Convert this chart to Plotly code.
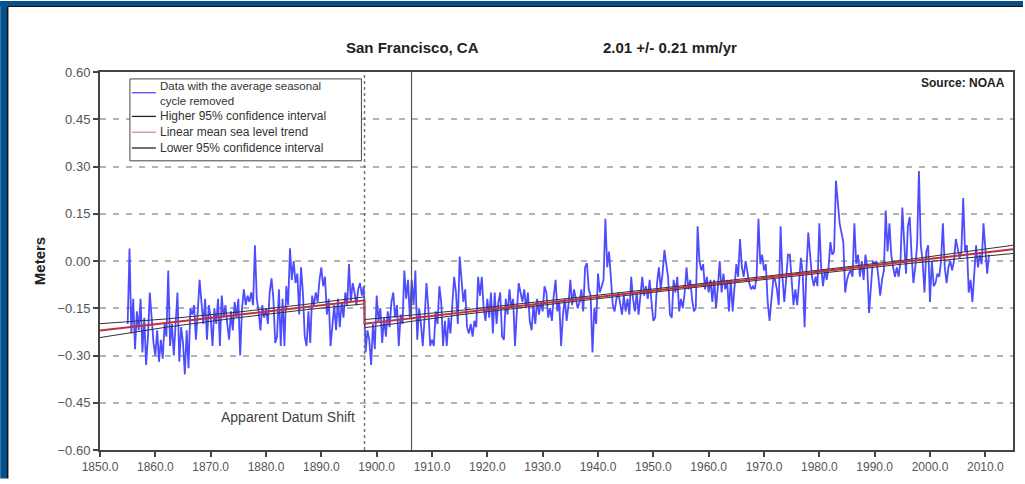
import plotly.graph_objects as go

# ---------------- data ----------------
start_year = 1855.0
steps_per_year = 3
msl = [
    -0.20, 0.04, -0.23,   -0.12, -0.28, -0.16,   -0.22, -0.12, -0.29,   -0.18, -0.33, -0.24,   -0.10, -0.20, -0.26,
    -0.30, -0.22, -0.32,   -0.25, -0.31, -0.20,   -0.24, -0.03, -0.27,   -0.20, -0.30, -0.19,   -0.10, -0.32, -0.21,
    -0.26, -0.36, -0.22,   -0.34, -0.15, -0.17,   -0.14, -0.25, -0.16,   -0.06, -0.13, -0.20,   -0.12, -0.25, -0.14,
    -0.18, -0.27, -0.15,   -0.20, -0.12, -0.27,   -0.11, -0.18, -0.14,   -0.20, -0.25, -0.16,   -0.22, -0.13, -0.18,
    -0.12, -0.30, -0.15,   -0.09, -0.14, -0.11,   -0.13, -0.10, -0.14,   0.05, -0.12, -0.16,   -0.22, -0.14, -0.18,
    -0.15, -0.20, -0.10,   -0.055, -0.12, -0.26,   -0.24, -0.09, -0.27,   -0.12, -0.27, -0.08,   -0.14, 0.04, -0.06,
    0.00, -0.07, -0.04,   -0.17, -0.02, -0.10,   -0.24, -0.27, -0.16,   -0.26, -0.11, -0.14,   -0.10, -0.13, -0.06,
    -0.02, -0.08, -0.05,   -0.17, -0.12, -0.27,   -0.20, -0.14, -0.22,   -0.12, -0.21, -0.13,   -0.18, -0.10, -0.14,
    -0.01, -0.13, -0.07,   -0.10, -0.14, -0.09,   -0.07, -0.11, -0.08,   -0.29, -0.22, -0.25,   -0.33, -0.20, -0.28,
    -0.11, -0.19, -0.15,   -0.26, -0.18, -0.24,   -0.16, -0.21, -0.13,   -0.10, -0.18, -0.14,   -0.27, -0.17, -0.20,
    -0.03, -0.12, -0.06,   -0.18, -0.06, -0.14,   -0.03, -0.25, -0.15,   -0.20, -0.27, -0.18,   -0.07, -0.15, -0.27,
    -0.25, -0.27, -0.16,   -0.20, -0.08, -0.13,   -0.27, -0.19, -0.27,   -0.18, -0.23, -0.14,   -0.05, -0.10, -0.20,
    0.014, -0.05, -0.13,   -0.09, -0.21, -0.23,   -0.20, -0.24, -0.19,   -0.21, -0.05, -0.11,   -0.05, -0.15, -0.19,
    -0.12, -0.18, -0.10,   -0.23, -0.10, -0.20,   -0.13, -0.10, -0.24,   -0.25, -0.12, -0.17,   -0.09, -0.15, -0.12,
    -0.27, -0.16, -0.07,   -0.10, -0.13, -0.09,   -0.15, -0.10, -0.19,   -0.22, -0.14, -0.20,   -0.12, -0.17, -0.13,
    -0.16, -0.08, -0.10,   -0.18, -0.15, -0.19,   -0.11, -0.06, -0.16,   -0.13, -0.27, -0.17,   -0.12, -0.19, -0.14,
    -0.06, -0.14, -0.09,   -0.12, -0.15, -0.13,   -0.09, -0.16, -0.02,   -0.007, -0.09, -0.11,   -0.29, -0.15, -0.20,
    -0.04, -0.10, -0.08,   -0.06, 0.134, -0.02,   0.03, -0.05, -0.14,   -0.16, -0.12, -0.10,   -0.14, -0.17, -0.11,
    -0.16, -0.12, -0.17,   -0.05, -0.12, -0.16,   -0.10, -0.17, -0.12,   -0.05, -0.11, -0.08,   -0.12, -0.06, -0.13,
    -0.19, -0.18, -0.07,   -0.02, -0.09, -0.04,   0.035, -0.01, -0.05,   -0.17, -0.18, -0.06,   -0.10, -0.05, -0.16,
    -0.12, -0.15, -0.10,   -0.02, -0.09, -0.06,   -0.12, -0.16, -0.15,   0.11, 0.00, -0.03,   -0.01, -0.09, -0.05,
    -0.10, -0.06, -0.13,   -0.06, -0.15, -0.08,   0.00, -0.10, -0.04,   -0.09, -0.06, -0.16,   -0.06, -0.16, -0.08,
    -0.01, -0.05, 0.07,   -0.02, -0.05, 0.00,   -0.04, -0.07, -0.09,   -0.08, -0.09, -0.05,   0.134, -0.01, 0.02,
    -0.03, -0.01, -0.13,   -0.19, -0.12, -0.06,   -0.06, -0.09, -0.14,   0.11, -0.05, -0.13,   -0.06, 0.02, 0.02,
    -0.06, -0.14, -0.09,   -0.14, -0.07, 0.01,   -0.04, -0.21, -0.03,   0.09, 0.02, -0.05,   -0.08, -0.05, -0.08,
    0.12, -0.02, -0.08,   -0.03, -0.06, -0.02,   0.06, 0.02, 0.03,   0.255, 0.17, 0.12,   0.09, 0.06, -0.10,
    -0.06, -0.04, -0.03,   -0.05, 0.12, -0.01,   0.02, -0.05, 0.00,   -0.06, 0.02, -0.02,   -0.165, -0.08, 0.00,
    -0.01, 0.00, -0.05,   -0.11, -0.06, -0.03,   0.16, 0.03, 0.12,   0.02, -0.02, -0.05,   -0.02, -0.05, 0.00,
    0.17, 0.06, -0.04,   0.11, 0.14, 0.02,   -0.07, -0.02, 0.05,   0.286, 0.05, 0.00,   -0.10, 0.03, 0.05,
    -0.13, 0.00, -0.08,   -0.07, -0.04, -0.05,   0.00, 0.12, -0.02,   -0.07, -0.02, 0.00,   -0.03, 0.00, 0.07,
    0.04, 0.01, 0.03,   0.20, 0.03, 0.05,   -0.10, -0.06, -0.13,   -0.03, 0.05, -0.02,   0.02, -0.01, 0.12,
    0.04, -0.04, 0.02,
]
msl_years = [start_year + i / steps_per_year for i in range(len(msl))]

trend_years = [1850.0, 1897.8, 1897.8, 2015.0]
trend_vals = [-0.221, -0.125, -0.199, 0.037]

ci_years = [1850, 1862, 1875, 1887, 1897.8, 1897.8, 1915, 1935, 1955, 1975, 1995, 2015]
ci_high = [-0.199, -0.184, -0.162, -0.138, -0.114, -0.186, -0.157, -0.119, -0.079, -0.039, 0.002, 0.050]
ci_low = [-0.243, -0.210, -0.180, -0.155, -0.136, -0.212, -0.171, -0.129, -0.089, -0.049, -0.010, 0.024]

datum_shift_year = 1897.8
earthquake_year = 1906.3

x_ticks = list(range(1850, 2011, 10))
y_ticks = [-0.60, -0.45, -0.30, -0.15, 0.00, 0.15, 0.30, 0.45, 0.60]

legend_labels = ["Data with the average seasonal<br>cycle removed",
                 "Higher 95% confidence interval", "Linear mean sea level trend",
                 "Lower 95% confidence interval"]

# ---------------- layout geometry ----------------
W, H = 1025, 484
L, R, T, B = 100, 1015, 72, 455  # plot area in pixels
FONT = "Liberation Sans, Arial, sans-serif"
BLUE = "#4d4dff"
RED = "#c0303c"


def px(xp):
    return (xp - L) / (R - L)


def py(yp):
    return (B - yp) / (B - T)


fig = go.Figure()
fig.add_trace(go.Scatter(x=msl_years, y=msl, mode="lines", line=dict(color=BLUE, width=1.8),
                         name="Data with the average seasonal cycle removed", showlegend=False))
fig.add_trace(go.Scatter(x=ci_years, y=ci_high, mode="lines", line=dict(color="#333333", width=1),
                         name="Higher 95% confidence interval", showlegend=False))
fig.add_trace(go.Scatter(x=ci_years, y=ci_low, mode="lines", line=dict(color="#333333", width=1),
                         name="Lower 95% confidence interval", showlegend=False))
fig.add_trace(go.Scatter(x=trend_years, y=trend_vals, mode="lines", line=dict(color=RED, width=2),
                         name="Linear mean sea level trend", showlegend=False))

shapes = []
# event lines
shapes.append(dict(type="line", xref="x", yref="paper", x0=datum_shift_year, x1=datum_shift_year, y0=0, y1=1,
                   line=dict(color="#777777", width=1.5, dash="dot")))
shapes.append(dict(type="line", xref="x", yref="paper", x0=earthquake_year, x1=earthquake_year, y0=0, y1=1,
                   line=dict(color="#555555", width=1.2)))
# legend box
shapes.append(dict(type="rect", xref="paper", yref="paper", x0=px(130), x1=px(362), y0=py(162), y1=py(79),
                   line=dict(color="#444444", width=1), fillcolor="white", layer="above"))
legend_rows = [(93, BLUE), (117, "#222222"), (133, "#d98890"), (149, "#222222")]
for ypix, col in legend_rows:
    shapes.append(dict(type="line", xref="paper", yref="paper", x0=px(132), x1=px(156), y0=py(ypix), y1=py(ypix),
                       line=dict(color=col, width=1.3), layer="above"))
# outer blue frame
shapes.append(dict(type="rect", xref="paper", yref="paper", x0=px(0), x1=px(7), y0=py(H), y1=py(0),
                   line=dict(width=0), fillcolor="#03508f", layer="above"))
shapes.append(dict(type="rect", xref="paper", yref="paper", x0=px(0), x1=px(W), y0=py(5), y1=py(0),
                   line=dict(width=0), fillcolor="#03508f", layer="above"))
shapes.append(dict(type="line", xref="paper", yref="paper", x0=px(7.5), x1=px(7.5), y0=py(H), y1=py(5.5),
                   line=dict(color="#111111", width=1.5), layer="above"))
shapes.append(dict(type="line", xref="paper", yref="paper", x0=px(7.5), x1=px(W), y0=py(5.5), y1=py(5.5),
                   line=dict(color="#111111", width=1.5), layer="above"))

annotations = []
annotations.append(dict(text="<b>San Francisco, CA</b>", xref="paper", yref="paper", x=px(413), y=py(47),
                        showarrow=False, font=dict(family=FONT, size=15, color="#222222"),
                        xanchor="center", yanchor="middle"))
annotations.append(dict(text="<b>2.01 +/- 0.21 mm/yr</b>", xref="paper", yref="paper", x=px(671), y=py(47),
                        showarrow=False, font=dict(family=FONT, size=15, color="#222222"),
                        xanchor="center", yanchor="middle"))
annotations.append(dict(text="<b>Source: NOAA</b>", xref="paper", yref="paper", x=px(1009), y=py(83),
                        showarrow=False, font=dict(family=FONT, size=12, color="#222222"),
                        xanchor="right", yanchor="middle"))
annotations.append(dict(text="Apparent Datum Shift", xref="paper", yref="paper", x=px(358), y=py(422),
                        showarrow=False, font=dict(family=FONT, size=14, color="#444444"),
                        xanchor="right", yanchor="middle"))
legend_text_rows = [94, 117, 133, 149]
legend_font_sizes = [11.5, 12, 12, 12]
for label, ypix, fs in zip(legend_labels, legend_text_rows, legend_font_sizes):
    annotations.append(dict(text=label, xref="paper", yref="paper", x=px(158), y=py(ypix),
                            showarrow=False, align="left",
                            font=dict(family=FONT, size=fs, color="#333333"),
                            xanchor="left", yanchor="middle"))

fig.update_layout(
    width=W, height=H,
    margin=dict(l=L, r=W - R, t=T, b=H - B, pad=0),
    paper_bgcolor="white", plot_bgcolor="white",
    showlegend=False,
    font=dict(family=FONT, size=13, color="#444444"),
    shapes=shapes, annotations=annotations,
    xaxis=dict(range=[1850, 2015], tickvals=x_ticks, tickformat=".1f", showgrid=False, zeroline=False,
               ticks="outside", ticklen=5, tickwidth=1.5, tickcolor="#444444",
               showline=True, linecolor="#444444", linewidth=2, mirror=True,
               tickfont=dict(family=FONT, size=12, color="#555555")),
    yaxis=dict(range=[-0.6, 0.6], tickvals=y_ticks, tickformat=".2f", showgrid=True,
               gridcolor="#b3b3b3", gridwidth=1.5, griddash="6px,7px", zeroline=False,
               ticks="outside", ticklen=5, tickwidth=1.5, tickcolor="#444444",
               showline=True, linecolor="#444444", linewidth=2, mirror=True,
               tickfont=dict(family=FONT, size=13, color="#555555"),
               title=dict(text="<b>Meters</b>", font=dict(family=FONT, size=15, color="#222222"), standoff=8)),
)

fig.write_html("out.html", config={"displayModeBar": False},
               post_script="document.body.style.margin='0px';")
